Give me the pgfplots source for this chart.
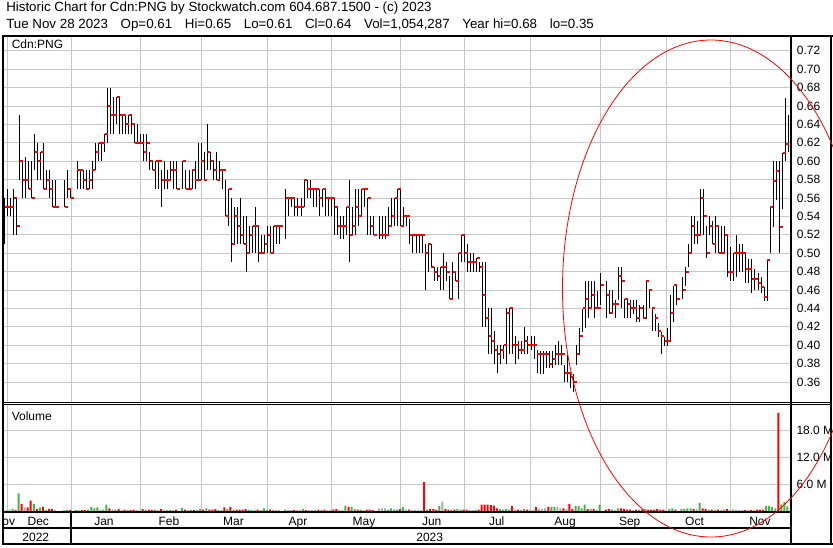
\documentclass[border=0pt]{standalone}
\usepackage{pgfplots}
\pgfplotsset{compat=1.18}
\usepackage{pgfplotstable}
\usepackage{fontspec}
\setmainfont{Liberation Sans}
\definecolor{gridgray}{RGB}{200,200,200}
\definecolor{vgreen}{RGB}{70,180,70}
\definecolor{vgray}{RGB}{170,170,170}
\definecolor{vred}{RGB}{255,0,0}

\pgfplotstableread{
k H L C V D
0 0.56 0.51 0.55 0.3 0
1 0.57 0.54 0.55 0.2 0
2 0.56 0.54 0.55 0.3 0
3 0.57 0.52 0.56 0.5 1
4 0.56 0.52 0.53 0.2 -1
5 0.65 0.58 0.60 3.9 1
6 0.60 0.56 0.58 1.6 -1
7 0.605 0.56 0.58 0.8 0
8 0.60 0.57 0.57 0.8 -1
9 0.60 0.56 0.56 2.3 -1
10 0.63 0.59 0.61 1.6 1
11 0.62 0.58 0.60 0.4 -1
12 0.61 0.58 0.61 0.8 1
13 0.62 0.57 0.57 0.9 -1
14 0.59 0.57 0.58 0.2 1
15 0.59 0.56 0.57 0.5 -1
16 0.58 0.55 0.55 0.5 -1
17 0.58 0.55 0.55 0.2 0
20 0.58 0.55 0.55 0.2 0
21 0.59 0.56 0.57 0.3 1
22 0.57 0.56 0.56 0.2 -1
24 0.60 0.57 0.59 0.2 1
25 0.59 0.57 0.59 0.2 0
26 0.59 0.57 0.58 0.2 -1
27 0.59 0.57 0.57 0.2 -1
28 0.59 0.57 0.58 0.3 1
29 0.60 0.57 0.59 0.9 1
30 0.62 0.59 0.61 0.6 1
31 0.62 0.60 0.62 0.8 1
32 0.62 0.60 0.62 0.3 0
33 0.63 0.61 0.63 0.3 1
34 0.68 0.62 0.66 1.4 1
35 0.68 0.63 0.65 0.6 -1
36 0.67 0.63 0.65 0.3 0
37 0.67 0.64 0.67 0.3 1
38 0.67 0.63 0.65 0.4 -1
39 0.65 0.63 0.65 0.2 0
40 0.65 0.63 0.64 0.3 -1
41 0.65 0.63 0.65 0.2 1
42 0.65 0.63 0.64 0.2 -1
43 0.64 0.62 0.62 0.3 -1
44 0.64 0.62 0.62 0.2 0
45 0.63 0.62 0.62 0.2 0
46 0.63 0.60 0.61 0.4 -1
47 0.63 0.60 0.62 0.3 1
48 0.61 0.59 0.60 0.3 -1
49 0.60 0.59 0.59 0.2 -1
50 0.60 0.57 0.60 0.3 1
51 0.60 0.57 0.60 0.2 0
52 0.59 0.55 0.58 0.4 -1
53 0.60 0.57 0.58 0.2 0
54 0.59 0.57 0.58 0.2 0
55 0.60 0.58 0.59 0.2 1
56 0.60 0.57 0.59 0.2 0
57 0.60 0.57 0.57 0.3 -1
59 0.60 0.57 0.60 0.7 1
60 0.59 0.57 0.57 0.3 -1
61 0.59 0.57 0.57 0.2 0
62 0.59 0.57 0.59 0.2 1
63 0.60 0.57 0.58 0.2 -1
64 0.62 0.58 0.58 0.3 0
65 0.62 0.58 0.60 0.4 1
66 0.61 0.58 0.58 0.3 -1
67 0.64 0.59 0.61 0.6 1
68 0.61 0.59 0.60 0.3 -1
69 0.60 0.58 0.59 0.3 -1
70 0.61 0.58 0.58 0.4 -1
71 0.60 0.58 0.59 0.2 1
72 0.59 0.57 0.59 0.2 0
73 0.58 0.54 0.54 0.8 -1
74 0.57 0.53 0.57 0.4 1
75 0.56 0.49 0.51 0.9 -1
76 0.55 0.51 0.54 0.3 1
77 0.55 0.51 0.53 0.3 -1
78 0.56 0.51 0.52 0.3 -1
79 0.54 0.51 0.51 0.3 -1
80 0.54 0.48 0.50 0.4 -1
81 0.53 0.50 0.52 0.3 1
82 0.53 0.50 0.53 0.2 1
83 0.55 0.50 0.53 0.3 0
84 0.53 0.49 0.50 0.3 -1
85 0.52 0.50 0.50 0.2 0
86 0.52 0.50 0.51 0.6 1
87 0.53 0.50 0.52 0.2 1
88 0.53 0.50 0.50 0.3 -1
89 0.53 0.50 0.53 0.2 1
90 0.53 0.51 0.53 0.2 0
91 0.53 0.51 0.53 0.2 0
93 0.57 0.515 0.56 0.3 1
94 0.56 0.54 0.56 0.2 0
95 0.56 0.55 0.56 0.2 0
96 0.56 0.54 0.55 0.2 -1
97 0.56 0.54 0.55 0.2 0
98 0.56 0.54 0.55 0.2 0
99 0.58 0.55 0.58 0.4 1
100 0.58 0.56 0.57 0.2 -1
101 0.58 0.56 0.57 0.2 0
102 0.57 0.55 0.57 0.2 0
103 0.57 0.55 0.57 0.3 0
104 0.57 0.54 0.56 0.3 -1
105 0.57 0.55 0.57 0.2 1
106 0.57 0.54 0.56 0.3 -1
107 0.56 0.54 0.56 0.2 0
108 0.56 0.54 0.56 0.2 0
109 0.56 0.52 0.55 0.3 -1
110 0.55 0.52 0.53 0.4 -1
111 0.54 0.515 0.53 0.3 0
112 0.54 0.515 0.53 0.2 0
113 0.55 0.52 0.55 1.2 1
114 0.58 0.49 0.52 0.9 -1
115 0.55 0.52 0.53 0.9 1
116 0.57 0.52 0.55 0.4 1
117 0.57 0.53 0.54 0.3 -1
118 0.57 0.54 0.57 0.3 1
119 0.57 0.55 0.57 0.2 0
120 0.56 0.52 0.56 0.3 -1
121 0.54 0.52 0.53 0.3 -1
122 0.54 0.52 0.52 0.2 -1
124 0.54 0.515 0.52 0.6 0
125 0.54 0.515 0.52 0.6 0
126 0.54 0.515 0.52 0.6 0
127 0.55 0.52 0.53 0.3 1
128 0.56 0.53 0.54 0.6 1
129 0.56 0.53 0.56 0.3 1
130 0.57 0.53 0.57 0.3 1
131 0.57 0.53 0.53 0.4 -1
132 0.55 0.53 0.54 0.9 1
133 0.54 0.53 0.54 0.3 0
134 0.537 0.51 0.52 0.3 -1
135 0.52 0.50 0.52 0.2 0
136 0.52 0.50 0.52 0.2 0
137 0.52 0.50 0.52 0.2 0
138 0.52 0.50 0.52 0.2 0
139 0.51 0.46 0.50 6.4 -1
140 0.51 0.48 0.51 0.3 1
141 0.51 0.485 0.485 0.4 -1
142 0.485 0.47 0.48 0.4 -1
143 0.485 0.47 0.475 0.3 -1
144 0.485 0.46 0.485 1.1 1
145 0.50 0.46 0.485 2.1 0
146 0.49 0.47 0.48 0.4 -1
147 0.475 0.45 0.45 0.3 -1
148 0.49 0.45 0.48 0.3 1
149 0.48 0.47 0.47 0.3 -1
150 0.50 0.45 0.50 0.4 1
151 0.52 0.49 0.52 0.3 1
152 0.52 0.49 0.50 0.3 -1
153 0.51 0.48 0.49 0.3 -1
154 0.50 0.48 0.49 0.2 0
155 0.50 0.48 0.49 0.2 0
156 0.495 0.48 0.495 0.3 1
157 0.49 0.48 0.485 0.3 -1
158 0.49 0.42 0.455 1.4 -1
159 0.49 0.42 0.43 1.4 -1
160 0.44 0.39 0.41 1.4 -1
161 0.44 0.39 0.405 1.3 -1
162 0.415 0.38 0.395 1.2 -1
163 0.40 0.37 0.39 0.6 -1
164 0.40 0.38 0.395 0.4 1
165 0.40 0.385 0.40 0.3 1
166 0.44 0.38 0.435 0.4 1
167 0.44 0.39 0.44 0.3 1
168 0.44 0.39 0.40 1.1 -1
169 0.41 0.38 0.40 0.3 0
170 0.405 0.385 0.395 0.3 -1
171 0.405 0.39 0.395 0.3 0
172 0.42 0.39 0.405 0.4 1
173 0.41 0.39 0.40 0.3 -1
174 0.41 0.395 0.40 0.3 0
175 0.41 0.385 0.40 0.3 0
176 0.395 0.37 0.39 0.9 -1
177 0.394 0.369 0.39 0.4 0
178 0.394 0.369 0.39 0.5 0
179 0.394 0.375 0.39 0.6 0
180 0.394 0.375 0.38 0.9 -1
181 0.394 0.375 0.385 0.9 1
182 0.40 0.379 0.39 0.9 1
183 0.405 0.379 0.39 0.9 0
184 0.40 0.379 0.39 0.6 0
185 0.379 0.36 0.37 0.6 -1
186 0.389 0.36 0.37 0.5 0
187 0.369 0.354 0.365 1.6 -1
188 0.369 0.349 0.36 0.5 -1
189 0.40 0.379 0.39 1.1 1
190 0.419 0.389 0.41 1.1 1
191 0.439 0.414 0.44 0.6 1
192 0.47 0.419 0.45 1.4 1
193 0.47 0.43 0.44 0.4 -1
194 0.47 0.44 0.455 0.5 1
195 0.47 0.43 0.44 0.4 -1
196 0.459 0.44 0.44 0.3 0
197 0.479 0.444 0.465 1.4 1
199 0.47 0.43 0.455 0.3 -1
200 0.46 0.434 0.435 0.4 -1
201 0.46 0.434 0.445 0.3 1
202 0.449 0.43 0.445 0.2 0
203 0.485 0.449 0.475 0.6 1
204 0.485 0.44 0.47 0.6 -1
205 0.45 0.43 0.45 0.5 -1
206 0.449 0.43 0.445 0.3 -1
207 0.449 0.43 0.44 0.3 -1
208 0.449 0.434 0.44 0.2 0
209 0.449 0.425 0.43 0.3 -1
210 0.444 0.425 0.44 0.3 1
211 0.444 0.429 0.43 0.3 -1
212 0.47 0.429 0.47 0.5 1
213 0.459 0.44 0.46 0.3 -1
214 0.44 0.415 0.44 0.3 -1
215 0.434 0.415 0.43 0.3 -1
216 0.424 0.409 0.415 0.4 -1
217 0.414 0.39 0.41 0.3 -1
218 0.409 0.399 0.405 0.3 -1
219 0.419 0.399 0.405 0.2 0
220 0.455 0.404 0.435 0.5 1
221 0.464 0.425 0.465 0.6 1
222 0.464 0.444 0.45 0.3 -1
224 0.474 0.45 0.46 0.4 1
225 0.485 0.464 0.48 0.5 1
226 0.51 0.485 0.50 0.6 1
227 0.54 0.50 0.53 0.6 1
228 0.54 0.51 0.52 0.5 -1
229 0.535 0.51 0.52 0.4 0
230 0.57 0.52 0.56 1.8 1
231 0.57 0.52 0.54 0.6 -1
232 0.53 0.495 0.50 0.5 -1
233 0.54 0.52 0.53 0.3 1
234 0.535 0.51 0.51 0.3 -1
235 0.54 0.50 0.53 0.3 1
236 0.53 0.50 0.50 0.3 -1
237 0.53 0.50 0.50 0.2 0
238 0.53 0.50 0.52 0.3 1
239 0.52 0.474 0.48 0.4 -1
240 0.507 0.47 0.48 0.3 0
241 0.50 0.47 0.50 0.3 1
242 0.52 0.474 0.50 0.3 0
243 0.51 0.48 0.50 0.2 0
244 0.51 0.48 0.50 0.2 0
245 0.50 0.468 0.483 0.2 -1
246 0.494 0.468 0.483 0.2 0
247 0.494 0.457 0.472 0.2 -1
248 0.483 0.46 0.472 0.2 0
249 0.478 0.46 0.468 0.3 -1
250 0.474 0.457 0.463 0.3 -1
251 0.463 0.448 0.452 0.3 -1
252 0.493 0.448 0.493 1.1 1
253 0.55 0.50 0.55 1.1 1
254 0.60 0.528 0.578 0.9 1
255 0.60 0.558 0.589 0.6 1
256 0.60 0.50 0.528 21.8 -1
257 0.609 0.548 0.609 1.5 1
258 0.669 0.60 0.619 2.0 1
259 0.65 0.61 0.64 1.05 1
}\pricedata

\pgfplotsset{
  stockaxis/.style={
    scale only axis,
    width=589.5pt,
    xmin=-0.132, xmax=259.57,
    axis line style={draw=none},
    tick style={draw=none},
    major tick length=0pt,
    xtick={0.96,22.10,44.90,65.06,86.86,108.14,130.71,151.95,173.76,196.89,218.6,239.97},
    xticklabels={},
    grid=major,
    grid style={gridgray, line width=0.75pt},
    yticklabel pos=right,
    /pgf/number format/assume math mode=true,
    tick label style={font=\fontsize{9}{11}\selectfont},
    yticklabel style={anchor=west, inner sep=0pt, xshift=5pt},
  }
}

\newcommand{\gap}{\hspace{9.5pt}}

\begin{document}
\begin{tikzpicture}[font=\fontsize{9}{11}\selectfont]
\useasboundingbox (0,0) rectangle (624.75pt,-410.25pt);

% price panel
\begin{axis}[stockaxis,
  at={(3pt,-27pt)}, anchor=north west,
  height=274.5pt,
  ymin=0.33826, ymax=0.73609,
  ytick={0.36,0.38,0.40,0.42,0.44,0.46,0.48,0.50,0.52,0.54,0.56,0.58,0.60,0.62,0.64,0.66,0.68,0.70,0.72},
  yticklabel={\pgfmathprintnumber[fixed,fixed zerofill,precision=2]{\tick}},
]
\addplot[draw=none, no markers,
  error bars/.cd, y dir=plus, y explicit, error mark=none,
  error bar style={draw=black, line width=0.75pt, solid}]
  table[x=k, y=L, y error expr=\thisrow{H}-\thisrow{L}] {\pricedata};
\addplot[only marks, mark=-, mark size=1.125pt,
  mark options={draw=vred, line width=1.5pt}]
  table[x expr=\thisrow{k}+0.6, y=C] {\pricedata};
\end{axis}

% volume panel
\begin{axis}[stockaxis,
  at={(3pt,-303.75pt)}, anchor=north west,
  height=79.5pt,
  ymin=0, ymax=23.556,
  ytick={6,12,18},
  yticklabel={\pgfmathprintnumber[fixed,fixed zerofill,precision=1]{\tick} M},
  yticklabel style={xshift=-0.3pt},
]
\addplot[ybar, bar width=1.5pt, bar shift=0pt, fill=vgreen, draw=none,
  restrict expr to domain={\thisrow{D}}{0.5:2}]
  table[x expr=\thisrow{k}-0.3, y=V] {\pricedata};
\addplot[ybar, bar width=1.5pt, bar shift=0pt, fill=vred, draw=none,
  restrict expr to domain={\thisrow{D}}{-2:-0.5}]
  table[x expr=\thisrow{k}-0.3, y=V] {\pricedata};
\addplot[ybar, bar width=1.5pt, bar shift=0pt, fill=vgray, draw=none,
  restrict expr to domain={\thisrow{D}}{-0.4:0.4}]
  table[x expr=\thisrow{k}-0.3, y=V] {\pricedata};
\end{axis}

\begin{scope}[x=0.75pt, y=-0.75pt]
  % titles
  \node[anchor=base west, inner sep=0pt, font=\fontsize{10}{12}\selectfont] at (6,11.8) {Historic Chart for Cdn:PNG by Stockwatch.com 604.687.1500 - (c) 2023};
  \node[anchor=base west, inner sep=0pt, font=\fontsize{10}{12}\selectfont] at (6,28.3) {Tue Nov 28 2023\gap Op=0.61\gap Hi=0.65\gap Lo=0.61\gap Cl=0.64\gap Vol=1,054,287\gap Year hi=0.68\gap lo=0.35};
  \node[anchor=base west, inner sep=0pt] at (11.5,48.2) {Cdn:PNG};
  \node[anchor=base west, inner sep=0pt] at (11.5,420) {Volume};
  % month labels
  \begin{scope}
    \clip (4,512) rectangle (790,528);
    \node[anchor=base, inner sep=0pt] at (4.5,525) {Nov};
    \node[anchor=base, inner sep=0pt] at (38.3,525) {Dec};
    \node[anchor=base, inner sep=0pt] at (104,525) {Jan};
    \node[anchor=base, inner sep=0pt] at (169,525) {Feb};
    \node[anchor=base, inner sep=0pt] at (233.5,525) {Mar};
    \node[anchor=base, inner sep=0pt] at (298,525) {Apr};
    \node[anchor=base, inner sep=0pt] at (364,525) {May};
    \node[anchor=base, inner sep=0pt] at (431.7,525) {Jun};
    \node[anchor=base, inner sep=0pt] at (496.7,525) {Jul};
    \node[anchor=base, inner sep=0pt] at (565,525) {Aug};
    \node[anchor=base, inner sep=0pt] at (629.7,525) {Sep};
    \node[anchor=base, inner sep=0pt] at (694.5,525) {Oct};
    \node[anchor=base, inner sep=0pt] at (760,525) {Nov};
  \end{scope}
  \node[anchor=base, inner sep=0pt] at (35.8,541.5) {2022};
  \node[anchor=base, inner sep=0pt] at (429.7,541.5) {2023};
  % frame
  \draw[line width=1.5pt] (2,35.8) -- (833,35.8);
  \draw[line width=1.5pt] (3,35) -- (3,545);
  \draw[line width=1.5pt] (791,35) -- (791,545);
  \draw[line width=1.5pt] (830.8,35) -- (830.8,545);
  \draw[line width=1.5pt] (2,544) -- (833,544);
  \draw[line width=0.9pt] (3,402.2) -- (831,402.2);
  \draw[line width=0.9pt] (3,404.6) -- (831,404.6);
  \draw[line width=1.5pt] (3,511.6) -- (791,511.6);
  \draw[line width=1.5pt] (3,528.3) -- (791,528.3);
  \draw[line width=1.5pt] (71.3,511.6) -- (71.3,544);
  % annotation ellipse
  \draw[vred, line width=0.6pt] (711,288.5) ellipse [x radius=111.375pt, y radius=186.375pt];
\end{scope}
\end{tikzpicture}
\end{document}
